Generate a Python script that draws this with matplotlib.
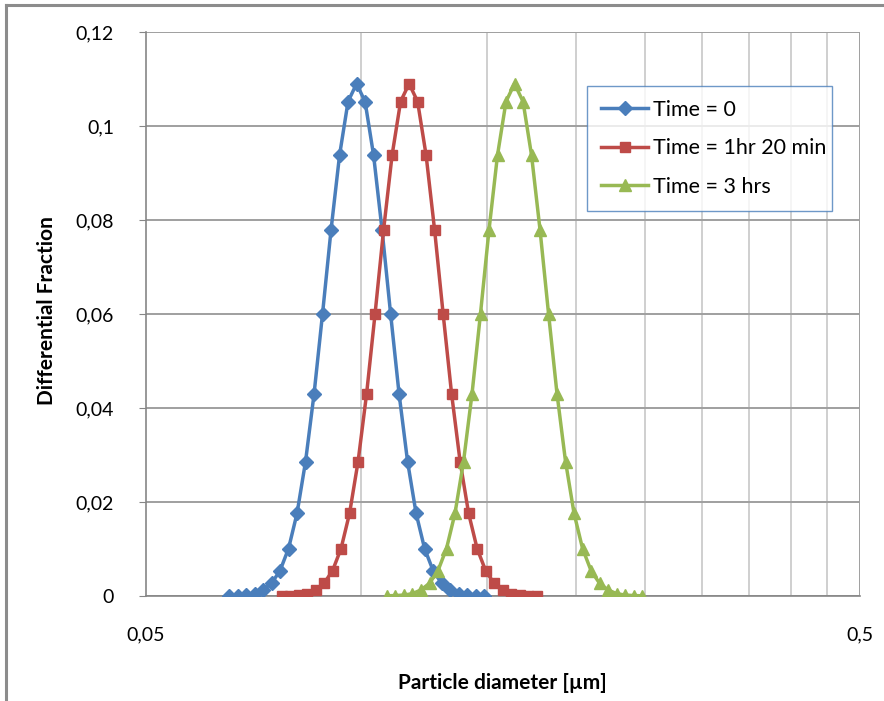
import matplotlib
matplotlib.use("Agg")
import matplotlib.pyplot as plt
from matplotlib.lines import Line2D
from matplotlib.ticker import FixedLocator, NullFormatter

plt.rcParams['font.family'] = ['Lato', 'DejaVu Sans']

# particle diameters [um]
d_t0 = [0.06535, 0.06717, 0.06903, 0.07095, 0.07293, 0.07495, 0.07704, 0.07918,
        0.08138, 0.08364, 0.08597, 0.08836, 0.09081, 0.09334, 0.09593, 0.09860,
        0.10134, 0.10416, 0.10705, 0.11003, 0.11309, 0.11623, 0.11946, 0.12278,
        0.12620, 0.12971, 0.13331, 0.13702, 0.14083, 0.14474, 0.14877]
d_t1 = [0.07741, 0.07957, 0.08178, 0.08405, 0.08639, 0.08879, 0.09126, 0.09379,
        0.09640, 0.09908, 0.10184, 0.10467, 0.10758, 0.11057, 0.11364, 0.11680,
        0.12005, 0.12338, 0.12681, 0.13034, 0.13396, 0.13769, 0.14151, 0.14545,
        0.14949, 0.15365, 0.15792, 0.16231, 0.16682, 0.17146, 0.17623]
d_t3 = [0.10876, 0.11179, 0.11489, 0.11809, 0.12137, 0.12475, 0.12821, 0.13178,
        0.13544, 0.13921, 0.14308, 0.14705, 0.15114, 0.15534, 0.15966, 0.16410,
        0.16866, 0.17335, 0.17817, 0.18312, 0.18821, 0.19345, 0.19882, 0.20435,
        0.21003, 0.21587, 0.22187, 0.22804, 0.23438, 0.24089, 0.24759]

# differential fraction
f_t0 = [0.00004, 0.0001, 0.0002, 0.0005, 0.0013, 0.0027, 0.0054, 0.0101,
        0.0176, 0.0286, 0.0430, 0.0601, 0.0779, 0.0938, 0.1052, 0.1090,
        0.1052, 0.0938, 0.0779, 0.0601, 0.0430, 0.0286, 0.0176, 0.0101,
        0.0054, 0.0027, 0.0013, 0.0005, 0.0002, 0.0001, 0.00004]
f_t1 = list(f_t0)
f_t3 = list(f_t0)

labels = ['Time = 0', 'Time = 1hr 20 min', 'Time = 3 hrs']
colors = ['#4a7ebb', '#be4b48', '#98b954']
markers = ['D', 's', '^']
msizes = [6.8, 7.8, 8.3]

yticks = [0, 0.02, 0.04, 0.06, 0.08, 0.1, 0.12]
ytick_labels = ['0', '0,02', '0,04', '0,06', '0,08', '0,1', '0,12']
xticks = [0.05, 0.5]
xtick_labels = ['0,05', '0,5']
x_minor = [0.1, 0.15, 0.2, 0.25, 0.3, 0.35, 0.4, 0.45]

fig = plt.figure(figsize=(8.84, 7.01), dpi=100)
ax = fig.add_axes([146/884, 1 - 596/701, 714/884, 564/701])

# outer chart frame
fig.add_artist(Line2D([6/884, 6/884], [0, 1 - 5/701], color='#8c8c8c', lw=2.2))
fig.add_artist(Line2D([6/884, 1], [1 - 5/701, 1 - 5/701], color='#8c8c8c', lw=2.2))

for d, f, lab, c, m, ms in zip([d_t0, d_t1, d_t3], [f_t0, f_t1, f_t3],
                               labels, colors, markers, msizes):
    ax.plot(d, f, color=c, lw=2.5, marker=m, ms=ms, mec=c, mfc=c,
            label=lab, zorder=3)

ax.set_xscale('log')
ax.set_xlim(0.05, 0.5)
ax.set_ylim(0, 0.12)

ax.set_yticks(yticks)
ax.set_yticklabels(ytick_labels)
ax.xaxis.set_major_locator(FixedLocator(xticks))
ax.set_xticklabels(xtick_labels)
ax.xaxis.set_minor_locator(FixedLocator(x_minor))
ax.xaxis.set_minor_formatter(NullFormatter())

ax.grid(axis='y', which='major', color='#9f9f9f', lw=1.4)
ax.grid(axis='x', which='minor', color='#cfcfcf', lw=1.4)
ax.axvline(0.5, color='#9f9f9f', lw=1.4)
ax.set_axisbelow(True)

for s in ['top', 'right']:
    ax.spines[s].set_visible(False)
for s in ['left', 'bottom']:
    ax.spines[s].set_color('#868686')
    ax.spines[s].set_linewidth(1.2)

ax.tick_params(axis='y', which='major', length=5, color='#868686',
               labelsize=14, pad=18)
ax.tick_params(axis='x', which='major', length=0, labelsize=14, pad=22)
ax.tick_params(axis='x', which='minor', length=0)

fig.text(502/884, 1 - 683/701, 'Particle diameter [µm]', fontsize=15,
         fontweight='bold', ha='center', va='center')
fig.text(47/884, 1 - 311/701, 'Differential Fraction', fontsize=15,
         fontweight='bold', ha='center', va='center', rotation=90)

leg = ax.legend(loc='upper left', bbox_to_anchor=(0.6176, 0.9043, 0.3432, 0.0),
                mode='expand', fontsize=15.5, frameon=True, fancybox=False,
                edgecolor='#4a7ebb', handlelength=2.2, labelspacing=0.85,
                borderpad=0.65, handletextpad=0.2, borderaxespad=0)
leg.get_frame().set_linewidth(1.0)

fig.savefig('out.png', dpi=100)
